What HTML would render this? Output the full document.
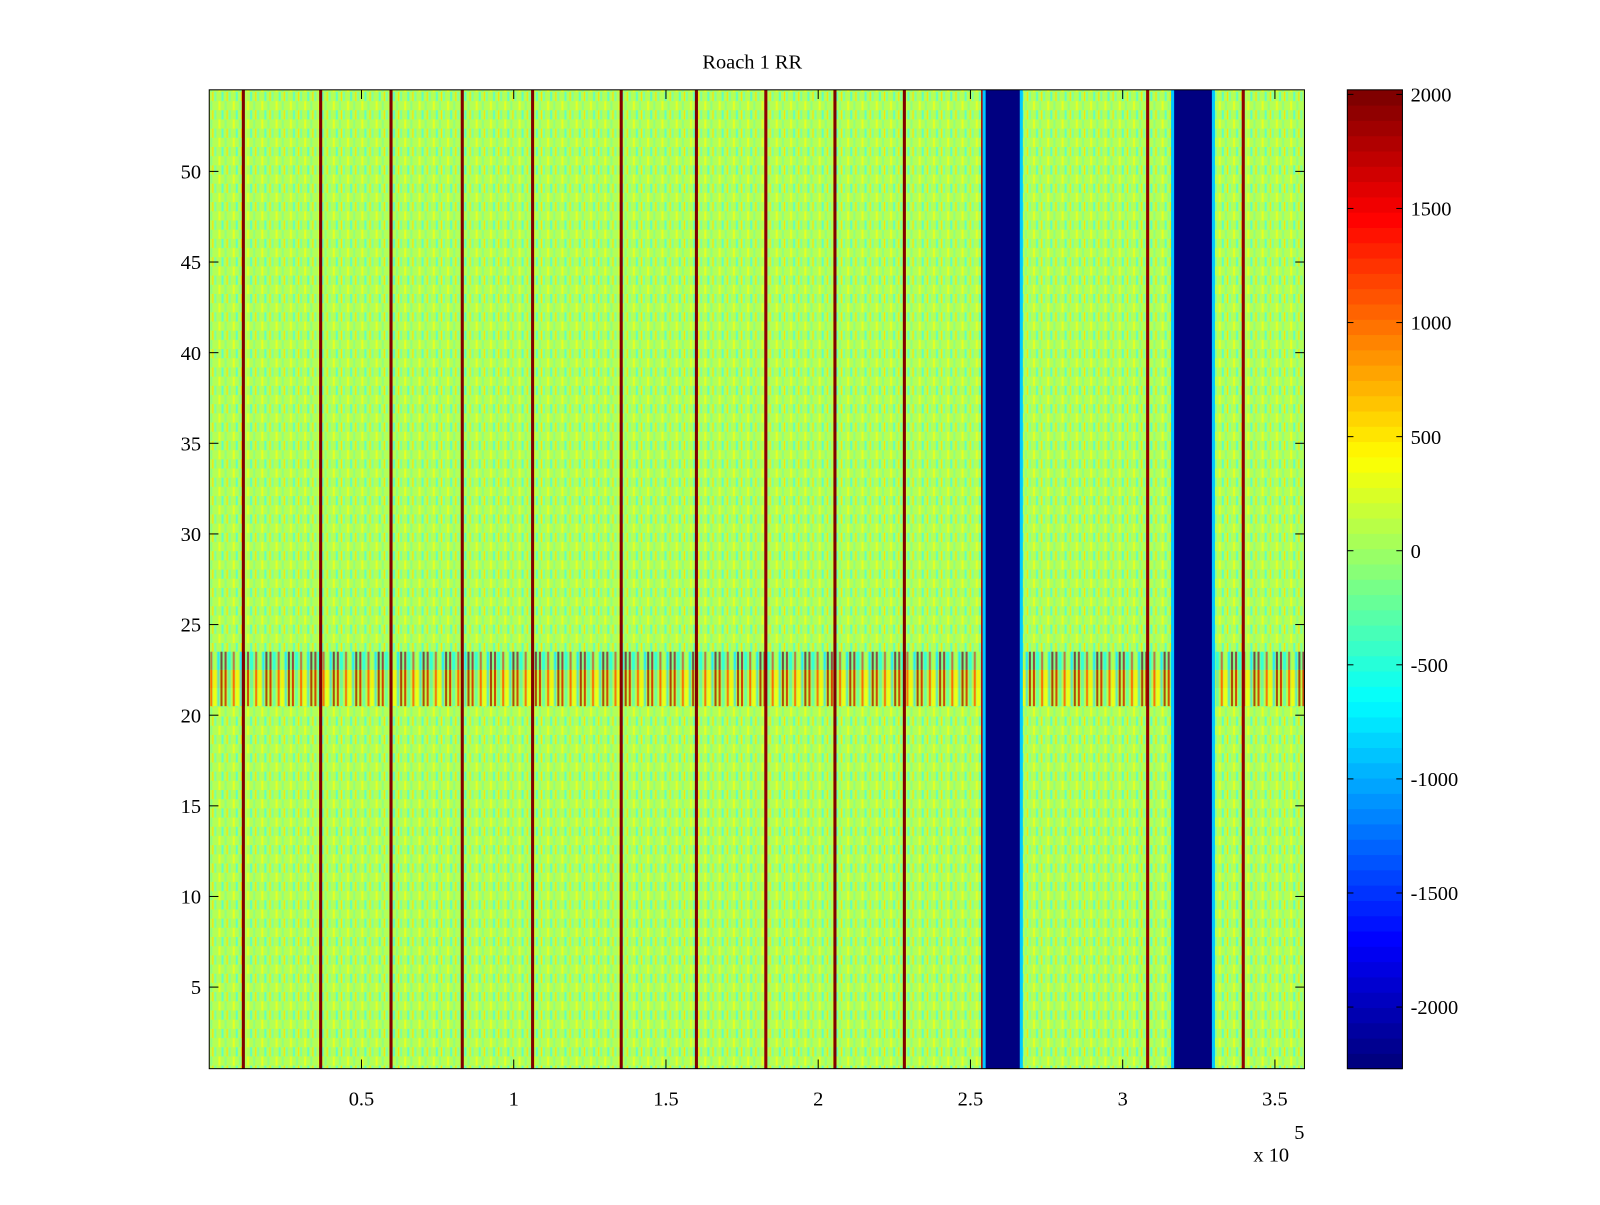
<!DOCTYPE html>
<html><head><meta charset="utf-8"><style>
html,body{margin:0;padding:0;background:#fff;}
body{width:1600px;height:1200px;overflow:hidden;font-family:"Liberation Serif",serif;}
text{font-family:"Liberation Serif",serif;font-size:20px;fill:#000;}
</style></head><body>
<svg id="chart" width="1600" height="1200" xmlns="http://www.w3.org/2000/svg">
<defs>
<pattern id="noise" width="14" height="18" patternUnits="userSpaceOnUse">
<rect width="14" height="18" fill="#b4ff55"/>
<rect x="0" width="2" height="9" fill="#7fffa0"/>
<rect x="4" y="9" width="2" height="9" fill="#e8ff20"/>
<rect x="7" width="2" height="9" fill="#60ffc0"/>
<rect x="10" y="9" width="2" height="9" fill="#90ff80"/>
<rect x="12" width="1" height="9" fill="#ffe000"/>
</pattern>
<pattern id="bandnoise" width="22" height="18" patternUnits="userSpaceOnUse">
<rect width="22" height="18" fill="#a8ff60"/>
<rect x="0" width="2" height="18" fill="#c00000"/>
<rect x="3" width="3" height="18" fill="#40ffd0"/>
<rect x="8" width="2" height="18" fill="#ff4000"/>
<rect x="11" width="3" height="18" fill="#f0ff10"/>
<rect x="15" width="2" height="18" fill="#30e0ff"/>
<rect x="18" width="2" height="18" fill="#900000"/>
</pattern>
</defs>
<g transform="scale(1.0207)">
<text x="737" y="67" text-anchor="middle">Roach 1 RR</text>
<g id="plot"></g>
<g id="cbar"></g>
</g>
</svg>
<script>
// data
const rowMin = 0.5, rowMax = 54.5;
const xMin = 0, xMax = 359700;
const clim = [-2270, 2020];
const redLineX = [11200, 36600, 59700, 83100, 106200, 135300, 160000, 182800, 205500, 228300, 254000, 308200, 339600];
const redLineValue = [2000, 2000, 2000, 2000, 2000, 2000, 2000, 1900, 2000, 2000, 1800, 1900, 1900];
const blueBandStart = [255000, 316900];
const blueBandEnd = [266200, 329300];
const blueBandValue = [-2270, -2270];
const specialRows = [21, 22, 23];
const specialRowValue = [300, 600, -500];
const xTicks = [0.5, 1, 1.5, 2, 2.5, 3, 3.5];
const yTicks = [5, 10, 15, 20, 25, 30, 35, 40, 45, 50];
const cbTicks = [2000, 1500, 1000, 500, 0, -500, -1000, -1500, -2000];

const PL = 205, PR = 1278, PT = 88, PB = 1047;
const sx = v => PL + (v - xMin) / (xMax - xMin) * (PR - PL);
const sy = v => PB - (v - rowMin) / (rowMax - rowMin) * (PB - PT);
function jet(v){
  let t=(v-clim[0])/(clim[1]-clim[0]); t=Math.max(0,Math.min(1,t));
  t=Math.floor(t*63.999)/63;
  const c=x=>Math.round(255*Math.max(0,Math.min(1,1.5-Math.abs(x))));
  return `rgb(${c(4*t-3)},${c(4*t-2)},${c(4*t-1)})`;
}
const NS="http://www.w3.org/2000/svg";
function mk(tag,attrs,parent){const e=document.createElementNS(NS,tag);for(const k in attrs)e.setAttribute(k,attrs[k]);parent.appendChild(e);return e;}
const plot=document.getElementById('plot');
let r=mk('rect',{x:PL,y:PT,width:PR-PL,height:PB-PT,fill:'url(#noise)'},plot);


specialRows.forEach((row,i)=>{
  const y0=sy(row+0.5), y1=sy(row-0.5);
  const b=mk('rect',{x:PL,y:y0,width:PR-PL,height:y1-y0,fill:'url(#bandnoise)'},plot);
  
  
  const e=mk('rect',{x:PL,y:y0,width:PR-PL,height:y1-y0,fill:jet(specialRowValue[i]),opacity:0.3},plot);
  
  
});
redLineX.forEach((x,i)=>{
  const e=mk('rect',{x:sx(x)-1.5,y:PT,width:3,height:PB-PT,fill:jet(redLineValue[i])},plot);
  
  
});
blueBandStart.forEach((s,i)=>{
  const x0=sx(s), x1=sx(blueBandEnd[i]);
  const c=mk('rect',{x:x0-3,y:PT,width:x1-x0+6,height:PB-PT,fill:'#00c8ff'},plot);
  
  
  const e=mk('rect',{x:x0,y:PT,width:x1-x0,height:PB-PT,fill:jet(blueBandValue[i])},plot);
  
  
});
let fr=mk('rect',{x:PL,y:PT,width:PR-PL,height:PB-PT,fill:'none',stroke:'#000','stroke-width':1},plot);


xTicks.forEach(t=>{
  const x=sx(t*1e5);
  mk('line',{x1:x,x2:x,y1:PB,y2:PB-9,stroke:'#000'},plot);
  mk('line',{x1:x,x2:x,y1:PT,y2:PT+9,stroke:'#000'},plot);
  const e=mk('text',{x:x,y:PB+36,'text-anchor':'middle'},plot);e.textContent=t;
  
  
});
yTicks.forEach(t=>{
  const y=sy(t);
  mk('line',{x1:PL,x2:PL+9,y1:y,y2:y,stroke:'#000'},plot);
  mk('line',{x1:PR,x2:PR-9,y1:y,y2:y,stroke:'#000'},plot);
  const e=mk('text',{x:PL-8,y:y+7,'text-anchor':'end'},plot);e.textContent=t;
  
  
});
let ex=mk('text',{x:1228,y:1138},plot);ex.textContent='x 10';


let ex2=mk('text',{x:1268,y:1116,'font-size':'15'},plot);ex2.textContent='5';


// colorbar
const cb=document.getElementById('cbar');
const CL=1320, CR=1374;
const cy=v=>PB-(v-clim[0])/(clim[1]-clim[0])*(PB-PT);
for(let i=0;i<64;i++){
  const v0=clim[0]+i*(clim[1]-clim[0])/64, v1=clim[0]+(i+1)*(clim[1]-clim[0])/64;
  const e=mk('rect',{x:CL,y:cy(v1),width:CR-CL,height:cy(v0)-cy(v1)+0.5,fill:jet((v0+v1)/2)},cb);
  
  
}
let cf=mk('rect',{x:CL,y:PT,width:CR-CL,height:PB-PT,fill:'none',stroke:'#000'},cb);


cbTicks.forEach(t=>{
  const y=cy(t);
  mk('line',{x1:CL,x2:CL+6,y1:y,y2:y,stroke:'#000'},cb);
  mk('line',{x1:CR,x2:CR-6,y1:y,y2:y,stroke:'#000'},cb);
  const e=mk('text',{x:CR+8,y:y+7},cb);e.textContent=t;
  
  
});
</script>
</body></html>
